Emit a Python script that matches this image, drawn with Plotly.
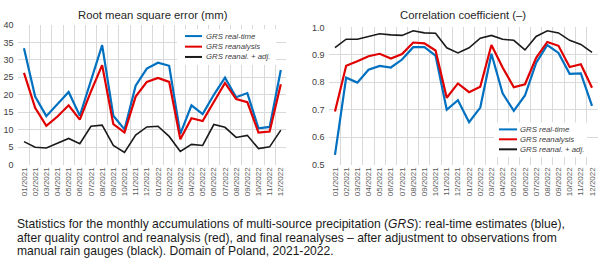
import plotly.graph_objects as go

months = ["01/2021", "02/2021", "03/2021", "04/2021", "05/2021", "06/2021",
          "07/2021", "08/2021", "09/2021", "10/2021", "11/2021", "12/2021",
          "01/2022", "02/2022", "03/2022", "04/2022", "05/2022", "06/2022",
          "07/2022", "08/2022", "09/2022", "10/2022", "11/2022", "12/2022"]

rmse_realtime = [33.3, 19.5, 13.9, 17.2, 20.8, 14.0, 24.0, 34.2, 14.0, 10.1, 22.6, 27.5,
                 29.2, 28.3, 8.8, 17.0, 14.5, 20.0, 24.9, 19.3, 20.5, 10.4, 10.8, 27.1]
rmse_reanalysis = [26.3, 16.3, 11.1, 13.8, 17.0, 12.9, 21.0, 28.5, 11.6, 9.2, 19.5, 23.7,
                   24.8, 23.7, 7.3, 13.3, 12.5, 18.0, 23.4, 18.8, 17.9, 9.2, 9.5, 23.0]
rmse_adjusted = [6.6, 5.0, 4.8, 6.2, 7.5, 6.0, 11.0, 11.3, 5.5, 3.5, 8.5, 10.8,
                 11.0, 8.1, 3.8, 5.8, 5.5, 11.5, 10.7, 7.8, 8.4, 4.6, 5.1, 9.9]

corr_realtime = [0.536, 0.817, 0.799, 0.846, 0.860, 0.854, 0.883, 0.928, 0.928, 0.897, 0.700, 0.735,
                 0.655, 0.708, 0.904, 0.760, 0.696, 0.752, 0.871, 0.936, 0.907, 0.831, 0.833, 0.714]
corr_reanalysis = [0.694, 0.860, 0.877, 0.895, 0.904, 0.887, 0.903, 0.945, 0.942, 0.916, 0.744, 0.796,
                   0.764, 0.784, 0.936, 0.854, 0.782, 0.793, 0.889, 0.947, 0.933, 0.856, 0.866, 0.780]
corr_adjusted = [0.926, 0.957, 0.957, 0.967, 0.977, 0.973, 0.971, 0.988, 0.980, 0.979, 0.926, 0.907,
                 0.926, 0.961, 0.971, 0.957, 0.953, 0.918, 0.967, 0.988, 0.980, 0.953, 0.938, 0.909]

series_names = ["GRS real-time", "GRS reanalysis", "GRS reanal. + adj."]
colors = ["#0070C0", "#E00000", "#1a1a1a"]
widths = [2.2, 2.2, 1.6]

W, H = 600, 264
def px(x):
    return x / W
def py(y):
    return (H - y) / H

fig = go.Figure()
for vals, c, w, n in zip([rmse_realtime, rmse_reanalysis, rmse_adjusted], colors, widths, series_names):
    fig.add_trace(go.Scatter(x=months, y=vals, mode="lines", name=n,
                             line=dict(color=c, width=w), xaxis="x", yaxis="y", showlegend=False))
for vals, c, w, n in zip([corr_realtime, corr_reanalysis, corr_adjusted], colors, widths, series_names):
    fig.add_trace(go.Scatter(x=months, y=vals, mode="lines", name=n,
                             line=dict(color=c, width=w), xaxis="x2", yaxis="y2", showlegend=False))

grid = "#d9d9d9"
xcommon = dict(type="category", tickson="boundaries", showgrid=True, gridcolor=grid, gridwidth=1,
               tickangle=-90, ticks="", showline=False, zeroline=False,
               tickfont=dict(family="Liberation Sans, Arial", size=8, color="#595959"),
               range=[-0.5, 23.5], fixedrange=True)
ycommon = dict(showgrid=True, gridcolor=grid, gridwidth=1, ticks="", showline=False, zeroline=False,
               tickfont=dict(family="Liberation Sans, Arial", size=9, color="#404040"),
               ticklabelstandoff=4, fixedrange=True)

fig.update_layout(
    width=W, height=H,
    margin=dict(l=0, r=0, t=0, b=0),
    paper_bgcolor="white", plot_bgcolor="white",
    showlegend=False,
    font=dict(family="Liberation Sans, Arial", color="#404040"),
    xaxis=dict(domain=[px(18.4), px(286.4)], anchor="y", **xcommon),
    yaxis=dict(domain=[py(166), py(20.7)], anchor="x", range=[0, 40], dtick=5, **ycommon),
    xaxis2=dict(domain=[px(329.4), px(597.6)], anchor="y2", **xcommon),
    yaxis2=dict(domain=[py(166), py(23.3)], anchor="x2", range=[0.5, 1.0], dtick=0.1,
                tickformat=".1f", **ycommon),
)

shapes = []
annotations = []

# chart titles
annotations.append(dict(text="Root mean square error (mm)", x=px(153), y=py(10), xref="paper", yref="paper",
                        xanchor="center", yanchor="middle", showarrow=False,
                        font=dict(size=11.3, color="#262626", family="Liberation Sans, Arial")))
annotations.append(dict(text="Correlation coefficient (\u2013)", x=px(463), y=py(10), xref="paper", yref="paper",
                        xanchor="center", yanchor="middle", showarrow=False,
                        font=dict(size=11.3, color="#262626", family="Liberation Sans, Arial")))

# manual legends
def legend(box, ys, x0, x1, xt):
    bx0, by0, bx1, by1 = box
    shapes.append(dict(type="rect", xref="paper", yref="paper", x0=px(bx0), x1=px(bx1), y0=py(by1), y1=py(by0),
                       fillcolor="white", line=dict(width=0), layer="above"))
    for yy, c, n in zip(ys, colors, series_names):
        shapes.append(dict(type="line", xref="paper", yref="paper", x0=px(x0), x1=px(x1), y0=py(yy), y1=py(yy),
                           line=dict(color=c, width=2), layer="above"))
        annotations.append(dict(text="<i>" + n + "</i>", x=px(xt), y=py(yy), xref="paper", yref="paper",
                                xanchor="left", yanchor="middle", showarrow=False,
                                font=dict(size=7.8, color="#404040", family="Liberation Sans, Arial")))

legend((177, 25, 276, 62), [32.3, 43.3, 54.0], 185, 202, 204)
legend((494, 122, 587, 158), [129.3, 139.6, 150.0], 499, 517, 518)

# caption
caption = [
    "Statistics for the monthly accumulations of multi-source precipitation (<i>GRS</i>): real-time estimates (blue),",
    "after quality control and reanalysis (red), and final reanalyses \u2013 after adjustment to observations from",
    "manual rain gauges (black). Domain of Poland, 2021-2022.",
]
for i, line in enumerate(caption):
    annotations.append(dict(text=line, x=px(15), y=py(227.5 + 14.3 * i), xref="paper", yref="paper",
                            xanchor="left", yanchor="middle", showarrow=False,
                            font=dict(size=12.1, color="#1a1a1a", family="Liberation Sans, Arial")))

fig.update_layout(shapes=shapes, annotations=annotations)
fig.write_html("out.html", config={"displayModeBar": False},
               post_script="document.body.style.margin='0';document.body.style.overflow='hidden';")
